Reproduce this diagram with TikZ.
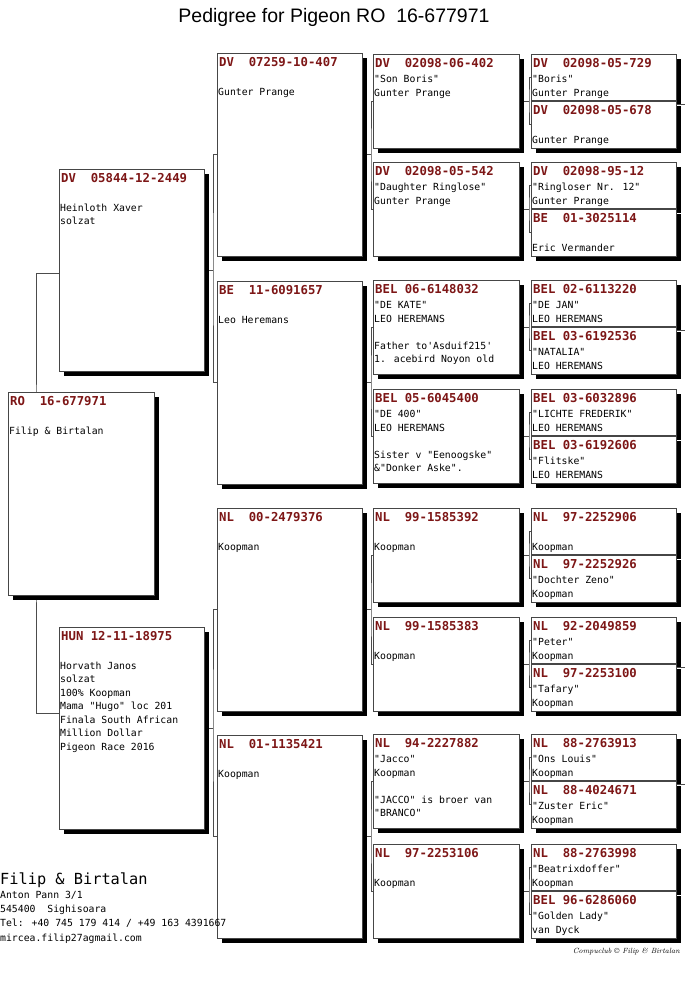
\documentclass[tikz,border=0pt]{standalone}
\usepackage{fontspec}
\usetikzlibrary{shadows,backgrounds,calc}
\newfontfamily\monof{DejaVu Sans Mono}
\newfontfamily\titlef{Liberation Sans}
\definecolor{hdr}{RGB}{125,22,22}
\definecolor{boxline}{RGB}{70,70,70}
\tikzset{
  pbox/.style={draw=boxline, line width=0.7pt, fill=white, inner sep=0pt, outer sep=0pt, anchor=north west,
    drop shadow={shadow xshift=5pt, shadow yshift=-5pt, fill=black, opacity=1}},
  hdrtxt/.style={anchor=base west, inner sep=0pt, text=hdr, font=\monof\bfseries\fontsize{12.3}{14}\selectfont},
  bodytxt/.style={anchor=north west, inner sep=0pt, align=left, font=\monof\fontsize{9.8}{13.5}\selectfont},
  conn/.style={draw=black!70, line width=0.6pt},
}
% name, x, y, w, h, header, body
\newcommand\pgb[7]{%
  \node[pbox, minimum width=#4pt, minimum height=#5pt] (#1) at (#2,#3) {};
  \node[hdrtxt] (#1h) at ([xshift=2pt,yshift=-13.5pt]#1.north west) {#6};
  \node[bodytxt] (#1t) at ([xshift=1pt,yshift=-19pt]#1.north west) {\strut #7};
}
% parent, child1, child2, offset
\newcommand\famlink[4]{%
  \coordinate (#1j) at ([xshift=#4pt]#1.east);
  \begin{pgfonlayer}{background}
  \draw[conn] (#1.east) -- (#1j) (#2.west) -| (#1j) |- (#3.west);
  \end{pgfonlayer}
}
\begin{document}
\begin{tikzpicture}[x=1pt,y=-1pt]
\useasboundingbox (0,0) rectangle (685,983);
\begin{pgfonlayer}{background}
\fill[white] (0,0) rectangle (685,983);
\end{pgfonlayer}

\node[font=\titlef\fontsize{19.5}{22}\selectfont, anchor=base, inner sep=0pt] (title) at (334,22) {Pedigree for Pigeon RO\ \ 16-677971};

% root
\pgb{root}{8}{392}{146}{203}{RO\ \ 16-677971}{\\Filip \& Birtalan}
% generation 1
\pgb{g1a}{59}{169}{145}{202}{DV\ \ 05844-12-2449}{\\Heinloth Xaver\\solzat}
\pgb{g1b}{59}{627}{145}{202}{HUN 12-11-18975}{\\Horvath Janos\\solzat\\100\% Koopman\\Mama "Hugo" loc 201\\Finala South African\\Million Dollar\\Pigeon Race 2016}
% generation 2
\pgb{g2a}{217}{53}{145}{203}{DV\ \ 07259-10-407}{\\Gunter Prange}
\pgb{g2b}{217}{281}{145}{203}{BE\ \ 11-6091657}{\\Leo Heremans}
\pgb{g2c}{217}{508}{145}{203}{NL\ \ 00-2479376}{\\Koopman}
\pgb{g2d}{217}{735}{145}{203}{NL\ \ 01-1135421}{\\Koopman}
% generation 3
\pgb{g3a}{373}{54}{146}{94}{DV\ \ 02098-06-402}{"Son Boris"\\Gunter Prange}
\pgb{g3b}{373}{162}{146}{94}{DV\ \ 02098-05-542}{"Daughter Ringlose"\\Gunter Prange}
\pgb{g3c}{373}{280}{146}{94}{BEL 06-6148032}{"DE KATE"\\LEO HEREMANS\\\mbox{}\\Father to\textquotesingle Asduif215\textquotesingle\\1. acebird Noyon old}
\pgb{g3d}{373}{389}{146}{94}{BEL 05-6045400}{"DE 400"\\LEO HEREMANS\\\mbox{}\\Sister v "Eenoogske"\\\&"Donker Aske".}
\pgb{g3e}{373}{508}{146}{94}{NL\ \ 99-1585392}{\\Koopman}
\pgb{g3f}{373}{617}{146}{94}{NL\ \ 99-1585383}{\\Koopman}
\pgb{g3g}{373}{734}{146}{94}{NL\ \ 94-2227882}{"Jacco"\\Koopman\\\mbox{}\\"JACCO" is broer van\\"BRANCO"}
\pgb{g3h}{373}{844}{146}{94}{NL\ \ 97-2253106}{\\Koopman}
% generation 4
\pgb{g4a}{531}{54}{145}{46}{DV\ \ 02098-05-729}{"Boris"\\Gunter Prange}
\pgb{g4b}{531}{101}{145}{47}{DV\ \ 02098-05-678}{\\Gunter Prange}
\pgb{g4c}{531}{162}{145}{46}{DV\ \ 02098-95-12}{"Ringloser Nr. 12"\\Gunter Prange}
\pgb{g4d}{531}{209}{145}{47}{BE\ \ 01-3025114}{\\Eric Vermander}
\pgb{g4e}{531}{280}{145}{46}{BEL 02-6113220}{"DE JAN"\\LEO HEREMANS}
\pgb{g4f}{531}{327}{145}{47}{BEL 03-6192536}{"NATALIA"\\LEO HEREMANS}
\pgb{g4g}{531}{389}{145}{46}{BEL 03-6032896}{"LICHTE FREDERIK"\\LEO HEREMANS}
\pgb{g4h}{531}{436}{145}{47}{BEL 03-6192606}{"Flitske"\\LEO HEREMANS}
\pgb{g4i}{531}{508}{145}{46}{NL\ \ 97-2252906}{\\Koopman}
\pgb{g4j}{531}{555}{145}{47}{NL\ \ 97-2252926}{"Dochter Zeno"\\Koopman}
\pgb{g4k}{531}{617}{145}{46}{NL\ \ 92-2049859}{"Peter"\\Koopman}
\pgb{g4l}{531}{664}{145}{47}{NL\ \ 97-2253100}{"Tafary"\\Koopman}
\pgb{g4m}{531}{734}{145}{46}{NL\ \ 88-2763913}{"Ons Louis"\\Koopman}
\pgb{g4n}{531}{781}{145}{47}{NL\ \ 88-4024671}{"Zuster Eric"\\Koopman}
\pgb{g4o}{531}{844}{145}{46}{NL\ \ 88-2763998}{"Beatrixdoffer"\\Koopman}
\pgb{g4p}{531}{891}{145}{47}{BEL 96-6286060}{"Golden Lady"\\van Dyck}

% connectors
\coordinate (rootj) at ([xshift=28pt]root.west);
\begin{pgfonlayer}{background}
\draw[conn] ([yshift=-3pt]g1a.west) -| (rootj) |- ([yshift=15pt]g1b.west);
\end{pgfonlayer}
\famlink{g1a}{g2a}{g2b}{9}
\famlink{g1b}{g2c}{g2d}{9}
\famlink{g2a}{g3a}{g3b}{9}
\famlink{g2b}{g3c}{g3d}{9}
\famlink{g2c}{g3e}{g3f}{9}
\famlink{g2d}{g3g}{g3h}{9}
\famlink{g3a}{g4a}{g4b}{10}
\famlink{g3b}{g4c}{g4d}{10}
\famlink{g3c}{g4e}{g4f}{10}
\famlink{g3d}{g4g}{g4h}{10}
\famlink{g3e}{g4i}{g4j}{10}
\famlink{g3f}{g4k}{g4l}{10}
\famlink{g3g}{g4m}{g4n}{10}
\famlink{g3h}{g4o}{g4p}{10}
% short ticks at the right edge
\foreach \b in {g4b,g4f,g4l,g4n}{
  \draw[conn] ([yshift=-3pt]\b.north east) -- ++(9,0);
}

% owner block
\node[anchor=base west, inner sep=0pt, font=\monof\fontsize{15.3}{16}\selectfont] (brand) at (0,884) {Filip \& Birtalan};
\node[anchor=north west, inner sep=0pt, align=left, font=\monof\fontsize{9.8}{14.3}\selectfont] (addr) at (0,888)
  {\strut Anton Pann 3/1\\545400\ \ Sighisoara\\Tel: +40 745 179 414 / +49 163 4391667\\mircea.filip27agmail.com};
% footer
\node[anchor=base east, inner sep=0pt, font=\itshape\fontsize{7.5}{8}\selectfont] (foot) at (680,953) {Compuclub \textcopyright{} Filip \& Birtalan};
\end{tikzpicture}
\end{document}
